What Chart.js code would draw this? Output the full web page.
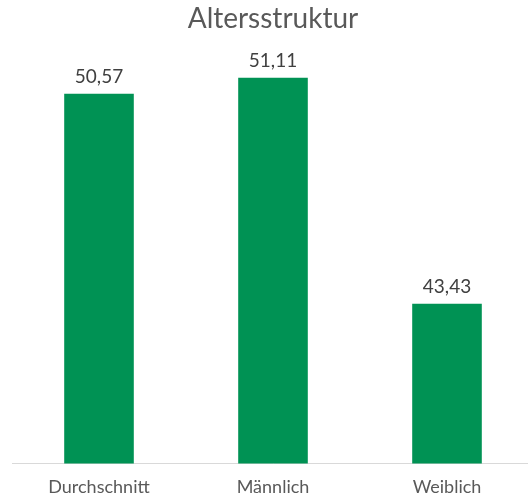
<!DOCTYPE html>
<html>
<head>
<meta charset="utf-8">
<script src="https://cdn.jsdelivr.net/npm/chart.js@4"></script>
<style>
    body { margin: 0; overflow: hidden; background: #fff; }
    #wrap { position: absolute; left: 12px; top: 0; width: 522px; height: 503px; }
</style>
</head>
<body>
<div id="wrap"><canvas id="ageChart"></canvas></div>
<script>
// data
const categories = ['Durchschnitt', 'Männlich', 'Weiblich'];
const ageValues = [50.57, 51.11, 43.43];
const chartTitle = 'Altersstruktur';

const fontFamily = 'Lato, "Open Sans", sans-serif';

// draws the value over each bar (German decimal comma)
const valueLabels = {
    id: 'valueLabels',
    afterDatasetsDraw(chart) {
        const ctx = chart.ctx;
        const meta = chart.getDatasetMeta(0);
        ctx.save();
        ctx.font = '19px ' + fontFamily;
        ctx.fillStyle = '#404040';
        ctx.textAlign = 'center';
        ctx.textBaseline = 'bottom';
        meta.data.forEach((bar, i) => {
            const txt = ageValues[i].toFixed(2).replace('.', ',');
            ctx.fillText(txt, bar.x, bar.y - 7);
        });
        ctx.restore();
    }
};

const ctx = document.getElementById('ageChart').getContext('2d');
new Chart(ctx, {
    type: 'bar',
    data: {
        labels: categories,
        datasets: [{
            data: ageValues,
            backgroundColor: '#009254',
            borderWidth: 0,
            barPercentage: 0.4,
            categoryPercentage: 1
        }]
    },
    options: {
        responsive: true,
        maintainAspectRatio: false,
        animation: false,
        plugins: {
            legend: { display: false },
            tooltip: { enabled: false },
            title: {
                display: true,
                text: chartTitle,
                color: '#595959',
                font: { family: fontFamily, size: 28, weight: 'normal' },
                padding: { top: 2, bottom: 16 }
            }
        },
        scales: {
            x: {
                grid: { display: false },
                border: { display: true, color: '#d9d9d9', width: 1 },
                ticks: {
                    color: '#595959',
                    font: { family: fontFamily, size: 18 },
                    padding: 5
                }
            },
            y: {
                display: false,
                min: 38,
                max: 52
            }
        }
    },
    plugins: [valueLabels]
});
</script>
</body>
</html>
